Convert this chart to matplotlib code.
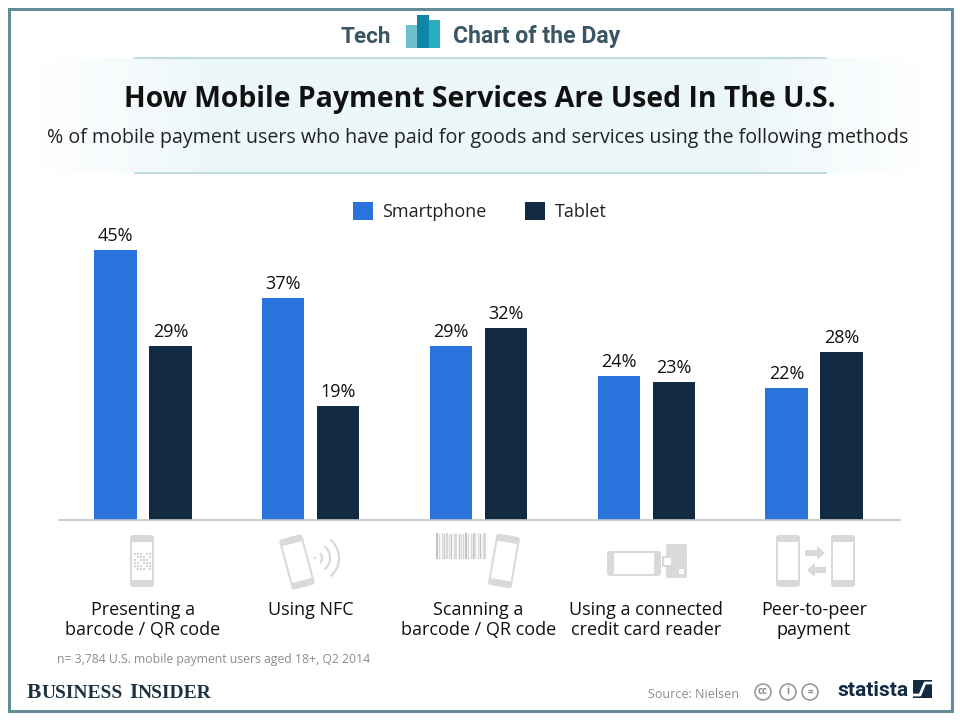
import numpy as np
import matplotlib
matplotlib.use("Agg")
import matplotlib.pyplot as plt
from matplotlib.patches import Rectangle, FancyBboxPatch, Arc, Circle, Polygon
from matplotlib.transforms import Affine2D

categories = ["Presenting a\nbarcode / QR code", "Using NFC", "Scanning a\nbarcode / QR code",
              "Using a connected\ncredit card reader", "Peer-to-peer\npayment"]
smartphone = [45, 37, 29, 24, 22]
tablet = [29, 19, 32, 23, 28]

BLUE = "#2a73dc"
NAVY = "#122a42"
ICON = "#d9d9d9"
TEAL = "#3a5564"

plt.rcParams["font.family"] = ["Open Sans", "DejaVu Sans"]

fig = plt.figure(figsize=(9.6, 7.2), dpi=100, facecolor="white")

# background layer in pixel coordinates, for the frame, header and icons
bg = fig.add_axes([0, 0, 1, 1], zorder=0)
bg.axis("off")

bg.add_patch(Rectangle((9, 9), 943, 702, fill=False, ec="#648c96", lw=2.2))

# pale header band, fades out at the sides only
fade = np.clip(np.minimum(np.linspace(0, 1, 200), np.linspace(1, 0, 200)) * 5, 0, 1)
band = np.ones((2, 200, 4))
band[..., :3] = matplotlib.colors.to_rgb("#ecf7fa")
band[..., 3] = fade
bg.imshow(band, extent=(35, 925, 173, 58), aspect="auto", zorder=1, interpolation="nearest")
bg.set_xlim(0, 960)
bg.set_ylim(720, 0)

for y in (58, 173):
    bg.plot([135, 826], [y, y], color="#b4d6dc", lw=1.2, zorder=2)

# header logo
bg.add_patch(Rectangle((406, 25), 12, 23, color="#6fc0cb", lw=0, zorder=3))
bg.add_patch(Rectangle((428, 20), 12, 28, color="#28aebd", lw=0, zorder=3))
bg.add_patch(Rectangle((417, 15), 12, 33, color="#0f86a6", lw=0, zorder=3))

bg.text(391, 37, "Tech", family="Roboto", weight="bold", fontsize=16.2, color=TEAL, ha="right", va="center")
bg.text(453, 37, "Chart of the Day", family="Roboto", weight="bold", fontsize=16.6, color=TEAL, ha="left", va="center")

bg.text(480, 100, "How Mobile Payment Services Are Used In The U.S.", weight="bold", fontsize=20.45,
        color="#111111", ha="center", va="center", zorder=4)
bg.text(478, 138, "% of mobile payment users who have paid for goods and services using the following methods",
        fontsize=14.15, color="#222222", ha="center", va="center", zorder=4)


def phone(cx, cy, w=24, h=52, angle=0):
    tr = Affine2D().rotate_deg_around(cx, cy, angle) + bg.transData
    bg.add_patch(FancyBboxPatch((cx - w / 2 + 2, cy - h / 2 + 2), w - 4, h - 4, boxstyle="round,pad=2,rounding_size=3",
                                fc=ICON, ec="none", transform=tr))
    bg.add_patch(Rectangle((cx - w / 2 + 2, cy - h / 2 + 7), w - 4, h - 14, fc="white", ec="none", transform=tr))


def wide_phone(x0, x1, y0, y1):
    bg.add_patch(FancyBboxPatch((x0 + 2, y0 + 2), x1 - x0 - 4, y1 - y0 - 4, boxstyle="round,pad=2,rounding_size=3",
                                fc=ICON, ec="none"))
    bg.add_patch(Rectangle((x0 + 7, y0 + 2), x1 - x0 - 14, y1 - y0 - 4, fc="white", ec="none"))


# icon 1, phone with qr code
phone(142, 561)
for i in range(6):
    for j in range(6):
        if (i * 3 + j * 5) % 4 != 1:
            bg.add_patch(Rectangle((134 + i * 2.9, 553 + j * 2.9), 2.3, 2.3, fc="#d4d4d4", ec="none"))

# icon 2, tilted phone and nfc waves
phone(297, 562, angle=-15)
bg.add_patch(Circle((315, 558), 1.3, fc=ICON, ec="none"))
for r, span in ((7, 45), (15, 50), (24, 50)):
    bg.add_patch(Arc((315, 558), 2 * r, 2 * r, theta1=-span, theta2=span, color=ICON, lw=1.6))

# icon 3, barcode and phone
for k, x in enumerate(np.arange(437, 486, 2.4)):
    bg.plot([x, x], [534, 558], color="#d8d8d8" if k % 3 else "#c4c4c4", lw=1.0 if k % 4 else 1.5)
phone(504, 561, angle=10)

# icon 4, phone plugged into a card reader
wide_phone(607, 661, 551, 576)
bg.add_patch(FancyBboxPatch((667, 545), 19, 32, boxstyle="round,pad=1,rounding_size=2", fc=ICON, ec="none"))
bg.add_patch(Rectangle((679, 569), 5, 5, fc="white", ec="none"))
bg.add_patch(Rectangle((663, 557), 9, 9, fc="white", ec=ICON, lw=1.5))

# icon 5, two phones and arrows
phone(788, 561)
phone(843, 561)
bg.add_patch(Polygon([(805, 550), (817, 550), (817, 546), (825, 553), (817, 560), (817, 556), (805, 556)], fc=ICON, ec="none"))
bg.add_patch(Polygon([(826, 567), (815, 567), (815, 563), (807, 570), (815, 577), (815, 573), (826, 573)], fc=ICON, ec="none"))

# chart itself
W, H = 960, 720
ax = fig.add_axes([58.5 / W, 1 - 520 / H, 841 / W, 300 / H], zorder=1)
ax.patch.set_alpha(0)
x = np.arange(len(categories))
bars1 = ax.bar(x - 0.164, smartphone, 0.253, color=BLUE, label="Smartphone")
bars2 = ax.bar(x + 0.164, tablet, 0.253, color=NAVY, label="Tablet")
ax.set_xlim(-0.503, 4.509)
ax.set_ylim(0, 50)
ax.bar_label(bars1, fmt="%d%%", padding=3.5, fontsize=13, color="#111111")
ax.bar_label(bars2, fmt="%d%%", padding=3.5, fontsize=13, color="#111111")
for s in ("top", "left", "right"):
    ax.spines[s].set_visible(False)
ax.spines["bottom"].set_color("#c4c4c4")
ax.spines["bottom"].set_linewidth(1.2)
ax.set_yticks([])
ax.set_xticks(x, categories, fontsize=13, color="#111111", linespacing=1.15)
ax.tick_params(axis="x", length=0, pad=58)

fig.legend(handles=[bars1, bars2], loc="center", bbox_to_anchor=((354 + 605) / 2 / W, 1 - 211.5 / H), ncol=2,
           frameon=False, fontsize=13, handlelength=1.15, handleheight=1.15, handletextpad=0.5,
           columnspacing=2.1, borderpad=0, labelcolor="#222222")

# footer
serif = dict(family="Liberation Serif", weight="bold", color="#1d3340", ha="left", va="baseline")
bg.text(57, 659, "n= 3,784 U.S. mobile payment users aged 18+, Q2 2014", fontsize=8.85, color="#8c8c8c", ha="left", va="center")
bg.text(27, 698, "B", fontsize=15.5, **serif)
bg.text(42, 698, "USINESS", fontsize=14, **serif)
bg.text(129, 698, "I", fontsize=15.5, **serif)
bg.text(138, 698, "NSIDER", fontsize=14, **serif)
bg.text(648, 694, "Source: Nielsen", fontsize=9, color="#8c8c8c", ha="left", va="center")

for cx, s in ((763, "cc"), (788, "i"), (810, "=")):
    bg.add_patch(Circle((cx, 692), 8, fc="white", ec="#9a9a9a", lw=1.2))
    bg.text(cx, 692, s, fontsize=7, weight="bold", color="#8a8a8a", ha="center", va="center")

bg.text(837, 690, "statista", family="Roboto", weight="bold", fontsize=15, color=NAVY, ha="left", va="center")
bg.add_patch(Rectangle((913, 680), 19, 18, fc=NAVY, ec="none"))
bg.plot([913, 920, 925, 932], [695, 695, 683, 683], color="white", lw=2)

fig.savefig("out.png", dpi=100)
